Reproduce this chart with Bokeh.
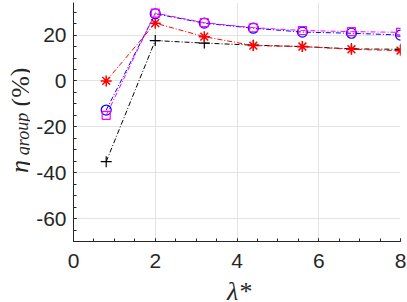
from bokeh.plotting import figure
from bokeh.models import FixedTicker, Range1d, Spacer
from bokeh.layouts import row, column
from bokeh.core.properties import value
from bokeh.embed import file_html
from bokeh.resources import INLINE

# Data
lam = [0.8, 2.0, 3.2, 4.4, 5.6, 6.8, 8.0]
eta_black = [-35.2, 17.6, 16.5, 15.6, 15.0, 14.0, 13.8]
eta_red = [0.0, 25.2, 19.3, 15.4, 15.0, 13.8, 13.2]
eta_blue = [-12.7, 29.3, 25.2, 23.0, 21.3, 20.8, 20.0]
eta_magenta = [-15.0, 29.6, 25.4, 23.2, 22.0, 21.5, 21.2]

x_ticks = [0, 2, 4, 6, 8]
y_ticks = [-60, -40, -20, 0, 20]
y_tick_labels = {-60: "-60", -40: "-40", -20: "-20", 0: "0", 20: "20"}
x_minor = [i * 0.5 for i in range(0, 17)]
y_minor = [v for v in range(-70, 35, 5)]

AX = "#262626"
LW = 30   # width of the y-label strip
BH = 25   # height of the x-label strip
MH = 302 - BH

# ---- y-label strip (real text, rotated); its frame is aligned with the main frame ----
lab = figure(width=LW, height=MH, output_backend="svg", toolbar_location=None,
             x_range=Range1d(0, LW), y_range=Range1d(241, 2),
             min_border_left=0, min_border_right=0, min_border_top=2, min_border_bottom=36,
             outline_line_color=None)
lab.axis.visible = False
lab.grid.visible = False
lab.text(x=[19], y=[166], text=["η"], angle=1.5708, text_align="center",
         text_baseline="alphabetic", text_font=value("Liberation Serif"),
         text_font_style="italic", text_font_size="26px", text_color=AX)
lab.text(x=[22], y=[133.5], text=["group"], angle=1.5708, text_align="center",
         text_baseline="alphabetic", text_font=value("Liberation Serif"),
         text_font_style="italic", text_font_size="18px", text_color=AX)
lab.text(x=[19.5], y=[86.5], text=["(%)"], angle=1.5708, text_align="center",
         text_baseline="alphabetic", text_font=value("Liberation Serif"),
         text_font_size="26px", text_color=AX)

# ---- main plot ----
p = figure(width=407 - LW, height=MH, output_backend="svg", toolbar_location=None,
           x_range=Range1d(0, 8), y_range=Range1d(-70, 34.2),
           min_border_left=73 - LW, min_border_right=7, min_border_top=2, min_border_bottom=36)
p.outline_line_color = None

for ax in (p.xaxis[0], p.yaxis[0]):
    ax.axis_line_color = AX
    ax.major_tick_line_color = AX
    ax.minor_tick_line_color = AX
    ax.major_tick_in = 3
    ax.major_tick_out = 0
    ax.minor_tick_in = 3
    ax.minor_tick_out = 0
    ax.major_label_text_font = "Liberation Sans"
    ax.major_label_text_font_size = "21px"
    ax.major_label_text_color = AX

p.xaxis[0].ticker = FixedTicker(ticks=x_ticks, minor_ticks=x_minor)
p.yaxis[0].ticker = FixedTicker(ticks=y_ticks, minor_ticks=y_minor)
p.yaxis[0].major_label_overrides = y_tick_labels
p.xaxis[0].major_label_standoff = 12
p.yaxis[0].major_label_standoff = 7

p.xgrid.ticker = FixedTicker(ticks=x_ticks)
p.ygrid.ticker = FixedTicker(ticks=y_ticks)
p.xgrid.grid_line_color = "#e3e3e3"
p.ygrid.grid_line_color = "#e3e3e3"

dash = "5 2 1 2"
p.line(lam, eta_black, line_color="black", line_width=1, line_dash=dash)
p.scatter(lam, eta_black, marker="cross", size=11, line_color="black", line_width=1.2)
p.line(lam, eta_red, line_color="#ff0000", line_width=1, line_dash=dash)
p.scatter(lam, eta_red, marker="asterisk", size=11, line_color="#ff0000", line_width=1.5)
p.line(lam, eta_blue, line_color="#0000ff", line_width=1, line_dash=dash)
p.scatter(lam, eta_blue, marker="circle", size=10, line_color="#0000ff", fill_color=None, line_width=1.2)
p.line(lam, eta_magenta, line_color="#ff00ff", line_width=1, line_dash=dash)
p.scatter(lam, eta_magenta, marker="square", size=8, line_color="#ff00ff", fill_color=None, line_width=1.2)

# ---- x-label strip under the plot, sharing the main x mapping ----
bot = figure(width=407 - LW, height=BH, output_backend="svg", toolbar_location=None,
             x_range=p.x_range, y_range=Range1d(302, 277),
             min_border_left=73 - LW, min_border_right=7, min_border_top=0, min_border_bottom=0,
             outline_line_color=None)
bot.axis.visible = False
bot.grid.visible = False
bot.text(x=[4.05], y=[291], text=["λ*"], text_align="center",
         text_baseline="middle", text_font=value("Liberation Serif"),
         text_font_style="italic", text_font_size="26px", text_color=AX)

layout = column(row(lab, p), row(Spacer(width=LW, height=BH), bot))
open("out.html", "w").write(file_html(layout, INLINE))
